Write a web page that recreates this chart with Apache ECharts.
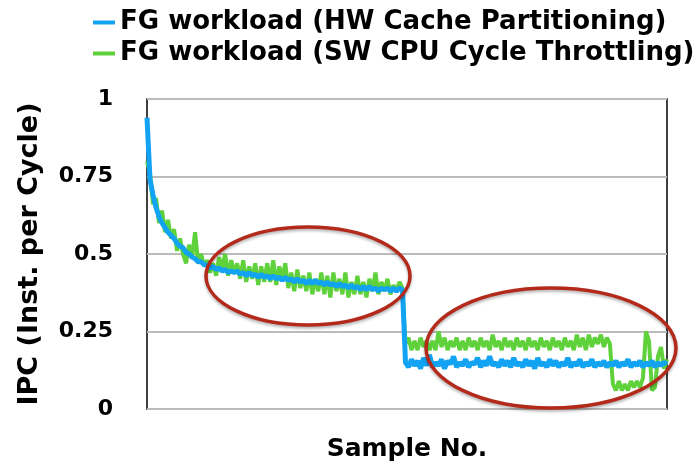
<!DOCTYPE html>
<html>
<head>
<meta charset="utf-8">
<script src="https://cdn.jsdelivr.net/npm/echarts@6/dist/echarts.min.js"></script>
<style>
  html, body { margin: 0; padding: 0; background: #fff; }
  #main { width: 697px; height: 468px; }
</style>
</head>
<body>
<div id="main"></div>
<script>
// names
var hwName = 'FG workload (HW Cache Partitioning)';
var swName = 'FG workload (SW CPU Cycle Throttling)';

// y ticks
var yTicks = [0, 0.25, 0.5, 0.75, 1];

// blue: HW cache partitioning
var hwValues = [
  0.94,0.74,0.69,0.65,0.62,0.60,0.585,0.57,0.56,0.55,
  0.535,0.525,0.52,0.505,0.50,0.49,0.485,0.475,0.475,0.465,
  0.465,0.455,0.46,0.45,0.455,0.445,0.45,0.44,0.445,0.44,
  0.445,0.435,0.44,0.43,0.44,0.43,0.435,0.425,0.435,0.425,
  0.43,0.42,0.43,0.42,0.425,0.415,0.425,0.415,0.42,0.41,
  0.42,0.41,0.415,0.405,0.415,0.405,0.415,0.405,0.41,0.40,
  0.41,0.40,0.405,0.395,0.405,0.395,0.40,0.39,0.40,0.39,
  0.395,0.385,0.395,0.385,0.395,0.385,0.39,0.38,0.39,0.385,
  0.39,0.38,0.39,0.38,0.39,0.385,
  0.15,0.135,0.16,0.14,0.155,0.13,0.165,0.14,0.175,0.135,
  0.15,0.14,0.16,0.13,0.155,0.145,0.17,0.135,0.15,0.14,
  0.16,0.135,0.15,0.145,0.165,0.135,0.155,0.14,0.17,0.14,
  0.15,0.135,0.16,0.14,0.155,0.135,0.165,0.14,0.15,0.135,
  0.16,0.14,0.155,0.13,0.165,0.14,0.15,0.135,0.16,0.14,
  0.155,0.135,0.15,0.14,0.165,0.135,0.15,0.14,0.16,0.135,
  0.15,0.14,0.16,0.135,0.15,0.14,0.155,0.135,0.15,0.14,
  0.155,0.135,0.15,0.14,0.16,0.135,0.15,0.14,0.155,0.135,
  0.15,0.14,0.155,0.135,0.15,0.14,0.15,0.145
];

// green: SW CPU cycle throttling
var swValues = [
  0.80,0.76,0.66,0.68,0.60,0.64,0.57,0.61,0.55,0.58,
  0.51,0.55,0.50,0.47,0.53,0.49,0.57,0.47,0.50,0.46,
  0.48,0.44,0.47,0.43,0.49,0.45,0.50,0.43,0.48,0.44,
  0.47,0.42,0.48,0.41,0.46,0.42,0.47,0.40,0.46,0.41,
  0.47,0.41,0.48,0.40,0.46,0.42,0.47,0.39,0.44,0.38,
  0.45,0.39,0.43,0.38,0.44,0.37,0.42,0.38,0.44,0.37,
  0.43,0.36,0.44,0.38,0.42,0.37,0.44,0.36,0.41,0.37,
  0.43,0.37,0.41,0.36,0.42,0.38,0.44,0.37,0.41,0.38,
  0.42,0.37,0.40,0.38,0.41,0.39,
  0.21,0.23,0.19,0.22,0.19,0.23,0.20,0.22,0.19,0.22,
  0.19,0.25,0.20,0.23,0.19,0.22,0.20,0.23,0.19,0.22,
  0.19,0.23,0.20,0.22,0.19,0.23,0.20,0.22,0.19,0.24,
  0.20,0.22,0.19,0.23,0.20,0.22,0.19,0.23,0.20,0.22,
  0.19,0.23,0.20,0.22,0.19,0.23,0.20,0.22,0.19,0.23,
  0.20,0.22,0.19,0.23,0.20,0.22,0.19,0.24,0.20,0.23,
  0.19,0.24,0.20,0.23,0.21,0.24,0.20,0.23,0.21,0.08,
  0.06,0.09,0.06,0.08,0.06,0.09,0.07,0.09,0.07,0.10,
  0.25,0.22,0.06,0.07,0.17,0.20,0.13,0.16
];

// sample numbers (x categories)
var samples = [];
for (var i = 0; i < hwValues.length; i++) {
  samples.push(i + 1);
}

var boldFont = 'DejaVu Sans';

var chart = echarts.init(document.getElementById('main'), null, { renderer: 'canvas' });

chart.setOption({
  animation: false,
  backgroundColor: '#fff',
  legend: {
    data: [hwName, swName],
    orient: 'vertical',
    left: 88,
    top: 4,
    itemWidth: 22,
    itemHeight: 4,
    itemGap: 4,
    icon: 'rect',
    textStyle: {
      fontFamily: boldFont,
      fontWeight: 'bold',
      fontSize: 26,
      lineHeight: 27,
      color: '#000'
    }
  },
  grid: {
    left: 147,
    right: 30,
    top: 99,
    bottom: 59,
    show: true,
    borderColor: '#000',
    borderWidth: 1.5,
    backgroundColor: 'transparent'
  },
  xAxis: {
    type: 'category',
    data: samples,
    boundaryGap: false,
    name: 'Sample No.',
    nameLocation: 'middle',
    nameGap: 28,
    nameTextStyle: {
      fontFamily: boldFont,
      fontWeight: 'bold',
      fontSize: 25,
      color: '#000'
    },
    axisLine: { show: false },
    axisTick: { show: false },
    axisLabel: { show: false },
    splitLine: { show: false }
  },
  yAxis: {
    type: 'value',
    min: yTicks[0],
    max: yTicks[yTicks.length - 1],
    interval: 0.25,
    name: 'IPC (Inst. per Cycle)',
    nameLocation: 'middle',
    nameGap: 104,
    nameMoveOverlap: false,
    nameTextStyle: {
      fontFamily: boldFont,
      fontWeight: 'bold',
      fontSize: 27,
      color: '#000'
    },
    axisLine: { show: false },
    axisTick: { show: false },
    axisLabel: {
      margin: 34,
      align: 'right',
      padding: [9, 0, 0, 0],
      fontFamily: boldFont,
      fontWeight: 'bold',
      fontSize: 22,
      color: '#000'
    },
    splitLine: {
      lineStyle: { color: '#bbbbbb', width: 2 }
    }
  },
  series: [
    {
      name: swName,
      type: 'line',
      data: swValues,
      symbol: 'none',
      color: '#5fd13b',
      lineStyle: { width: 4, color: '#5fd13b' },
      z: 2
    },
    {
      name: hwName,
      type: 'line',
      data: hwValues,
      symbol: 'none',
      color: '#12a4f2',
      lineStyle: { width: 5, color: '#12a4f2' },
      z: 3
    }
  ],
  // red ellipses around the two regions
  graphic: [
    {
      type: 'ellipse',
      shape: { cx: 308, cy: 276, rx: 102, ry: 49 },
      style: {
        fill: null, stroke: '#b32a1b', lineWidth: 3.5,
        shadowBlur: 3, shadowOffsetY: 2, shadowColor: 'rgba(0,0,0,0.3)'
      },
      z: 10
    },
    {
      type: 'ellipse',
      shape: { cx: 551, cy: 348, rx: 125, ry: 60 },
      style: {
        fill: null, stroke: '#b32a1b', lineWidth: 3.5,
        shadowBlur: 3, shadowOffsetY: 2, shadowColor: 'rgba(0,0,0,0.3)'
      },
      z: 10
    }
  ]
});
</script>
</body>
</html>
